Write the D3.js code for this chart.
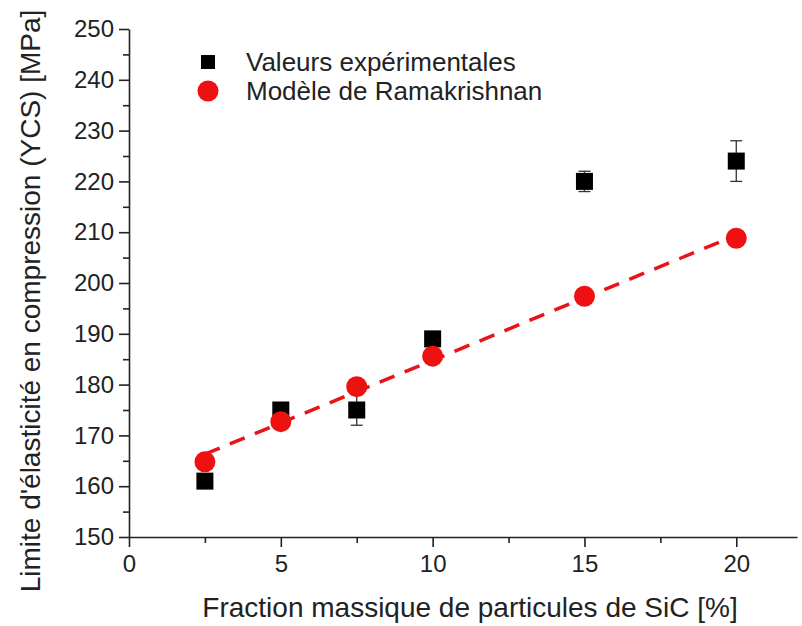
<!DOCTYPE html>
<html><head><meta charset="utf-8">
<script src="https://cdn.jsdelivr.net/npm/d3@7"></script>
<style>body{margin:0;background:#fff}svg{display:block}text{font-family:Arial,"Liberation Sans",sans-serif}</style>
</head><body><svg id="c" width="802" height="626"></svg>
<script>
const fractions = [2.5, 5, 7.5, 10, 15, 20];
const experimental = [161, 175, 175, 189, 220, 224];
const expError = [0.8, 1, 3, 1, 2, 4];
const model = [164.8, 172.7, 179.6, 185.6, 197.4, 208.8];
const fitX = [2.5, 20];
const fitY = [166.3, 209.4];
const xTicks = [0, 5, 10, 15, 20];
const yTicks = [150, 160, 170, 180, 190, 200, 210, 220, 230, 240, 250];
const legendLabels = ["Valeurs expérimentales", "Modèle de Ramakrishnan"];
const xTitle = "Fraction massique de particules de SiC [%]";
const yTitle = "Limite d'élasticité en compression (YCS) [MPa]";

const svg = d3.select("#c");
const x = d3.scaleLinear().domain([0, 22]).range([129, 797]);
const y = d3.scaleLinear().domain([150, 250]).range([537, 29]);

// axes
const xAxis = svg.append("g").attr("transform", `translate(0,${y(150)})`)
  .call(d3.axisBottom(x).tickValues(xTicks).tickSize(10).tickSizeOuter(0).tickPadding(6));
svg.append("g").attr("transform", `translate(0,${y(150)})`)
  .call(d3.axisBottom(x).tickValues([2.5,7.5,12.5,17.5]).tickSize(6).tickFormat("").tickSizeOuter(0))
  .select(".domain").remove();
const yAxis = svg.append("g").attr("transform", `translate(${x(0)},0)`)
  .call(d3.axisLeft(y).tickValues(yTicks).tickSize(10).tickSizeOuter(0).tickPadding(5));
svg.append("g").attr("transform", `translate(${x(0)},0)`)
  .call(d3.axisLeft(y).tickValues(d3.range(155, 250, 10)).tickSize(6).tickFormat("").tickSizeOuter(0))
  .select(".domain").remove();
svg.selectAll(".domain, .tick line").attr("stroke", "#222").attr("stroke-width", 1.6);
svg.selectAll(".tick text").attr("font-size", 24).attr("fill", "#222");
xAxis.selectAll(".tick text").attr("dy", "0.8em");

svg.append("text").attr("x", 470).attr("y", 617).attr("text-anchor", "middle")
  .attr("font-size", 28).attr("fill", "#222").text(xTitle);
svg.append("text").attr("transform", `translate(40,301) rotate(-90)`)
  .attr("text-anchor", "middle").attr("font-size", 28).attr("fill", "#222").text(yTitle);

// dashed fit line
svg.append("path").datum(fitX.map((v,i)=>[v, fitY[i]]))
  .attr("d", d3.line().x(d=>x(d[0])).y(d=>y(d[1])))
  .attr("fill", "none").attr("stroke", "#e8141a").attr("stroke-width", 3.5)
  .attr("stroke-dasharray", "16,11");

// error bars
const eb = svg.append("g").attr("stroke", "#333").attr("stroke-width", 1.3);
fractions.forEach((f, i) => {
  const cx = x(f), y1 = y(experimental[i] - expError[i]), y2 = y(experimental[i] + expError[i]);
  eb.append("line").attr("x1", cx).attr("x2", cx).attr("y1", y1).attr("y2", y2);
  eb.append("line").attr("x1", cx-6).attr("x2", cx+6).attr("y1", y1).attr("y2", y1);
  eb.append("line").attr("x1", cx-6).attr("x2", cx+6).attr("y1", y2).attr("y2", y2);
});

// squares
const s = 17;
svg.append("g").selectAll("rect").data(fractions).join("rect")
  .attr("x", d => x(d) - s/2).attr("y", (d,i) => y(experimental[i]) - s/2)
  .attr("width", s).attr("height", s).attr("fill", "#000");

// circles
svg.append("g").selectAll("circle").data(fractions).join("circle")
  .attr("cx", d => x(d)).attr("cy", (d,i) => y(model[i])).attr("r", 10.5)
  .attr("fill", "#ee1111");

// legend
const lg = svg.append("g");
lg.append("rect").attr("x", 201).attr("y", 55).attr("width", 14).attr("height", 14).attr("fill", "#000");
lg.append("circle").attr("cx", 208).attr("cy", 91).attr("r", 10.5).attr("fill", "#ee1111");
lg.append("text").attr("x", 246).attr("y", 71).attr("font-size", 26).attr("fill", "#222").text(legendLabels[0]);
lg.append("text").attr("x", 246).attr("y", 100).attr("font-size", 26).attr("fill", "#222").text(legendLabels[1]);
</script></body></html>
